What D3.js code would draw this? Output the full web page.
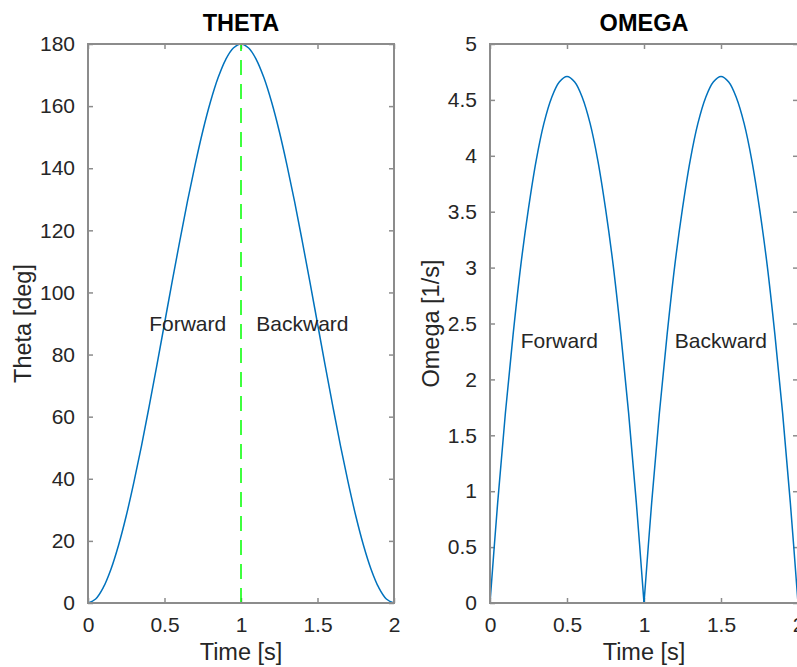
<!DOCTYPE html>
<html>
<head>
<meta charset="utf-8">
<script src="https://cdn.jsdelivr.net/npm/d3@7"></script>
<style>
  html, body { margin: 0; padding: 0; background: #fff; }
  svg { display: block; font-family: "Liberation Sans", Arial, Helvetica, sans-serif; }
</style>
</head>
<body>
<svg id="fig" width="797" height="667"></svg>
<script>
// Sample times (s), one motion cycle: forward 0..1 s, backward 1..2 s
const time = [0, 0.05, 0.1, 0.15, 0.2, 0.25, 0.3, 0.35, 0.4, 0.45, 0.5,
              0.55, 0.6, 0.65, 0.7, 0.75, 0.8, 0.85, 0.9, 0.95, 1.0,
              1.05, 1.1, 1.15, 1.2, 1.25, 1.3, 1.35, 1.4, 1.45, 1.5,
              1.55, 1.6, 1.65, 1.7, 1.75, 1.8, 1.85, 1.9, 1.95, 2.0];

// Joint angle (deg)
const theta = [0, 1.3, 5.0, 10.9, 18.7, 28.1, 38.9, 50.7, 63.4, 76.5, 90.0,
               103.5, 116.6, 129.3, 141.1, 151.9, 161.3, 169.1, 175.0, 178.7, 180.0,
               178.7, 175.0, 169.1, 161.3, 151.9, 141.1, 129.3, 116.6, 103.5, 90.0,
               76.5, 63.4, 50.7, 38.9, 28.1, 18.7, 10.9, 5.0, 1.3, 0];

// Angular speed magnitude (1/s)
const omega = [0, 0.90, 1.70, 2.40, 3.02, 3.53, 3.96, 4.29, 4.52, 4.66, 4.71,
               4.66, 4.52, 4.29, 3.96, 3.53, 3.02, 2.40, 1.70, 0.90, 0,
               0.90, 1.70, 2.40, 3.02, 3.53, 3.96, 4.29, 4.52, 4.66, 4.71,
               4.66, 4.52, 4.29, 3.96, 3.53, 3.02, 2.40, 1.70, 0.90, 0];

// Axis ticks
const timeTicks  = [0, 0.5, 1, 1.5, 2];
const thetaTicks = [0, 20, 40, 60, 80, 100, 120, 140, 160, 180];
const omegaTicks = [0, 0.5, 1, 1.5, 2, 2.5, 3, 3.5, 4, 4.5, 5];

// Phase annotations [x, y, text]
const thetaNotes = [[0.4, 90, "Forward"], [1.1, 90, "Backward"]];
const omegaNotes = [[0.2, 2.35, "Forward"], [1.2, 2.35, "Backward"]];

// Direction switch time
const switchTime = [1];

const svg = d3.select("#fig");
const TICK_FONT = 21, LABEL_FONT = 23.5, TITLE_FONT = 23.5;
const AXIS_COLOR = "#8c8c8c", TEXT_COLOR = "#262626";
const LINE_BLUE = "#0072BD";

function panel(opt) {
  const x = d3.scaleLinear().domain([0, 2]).range([opt.left, opt.right]);
  const y = d3.scaleLinear().domain(opt.yDomain).range([opt.bottom, opt.top]);
  const g = svg.append("g");
  const tl = 5;

  // clip to plot box
  const clipId = "clip-" + opt.name;
  svg.append("clipPath").attr("id", clipId).append("rect")
    .attr("x", opt.left).attr("y", opt.top - 2)
    .attr("width", opt.right - opt.left).attr("height", opt.bottom - opt.top + 4);

  // bottom axis with labels, ticks pointing inward
  const xb = g.append("g").attr("transform", `translate(0,${opt.bottom})`)
    .call(d3.axisBottom(x).tickValues(timeTicks).tickSizeInner(-tl).tickSizeOuter(0)
      .tickPadding(tl + 10).tickFormat(d3.format("")));
  const xt = g.append("g").attr("transform", `translate(0,${opt.top})`)
    .call(d3.axisTop(x).tickValues(timeTicks).tickSizeInner(-tl).tickSizeOuter(0).tickFormat(""));
  const yl = g.append("g").attr("transform", `translate(${opt.left},0)`)
    .call(d3.axisLeft(y).tickValues(opt.yTicks).tickSizeInner(-tl).tickSizeOuter(0)
      .tickPadding(tl + 8).tickFormat(d3.format("")));
  const yr = g.append("g").attr("transform", `translate(${opt.right},0)`)
    .call(d3.axisRight(y).tickValues(opt.yTicks).tickSizeInner(-tl).tickSizeOuter(0).tickFormat(""));

  [xb, xt, yl, yr].forEach(a => {
    a.select(".domain").remove();
    a.selectAll(".tick line").attr("stroke", AXIS_COLOR).attr("stroke-width", 1.5);
    a.selectAll(".tick text").attr("fill", TEXT_COLOR).attr("font-size", TICK_FONT)
      .attr("font-family", "Liberation Sans, Arial, sans-serif");
  });
  xb.selectAll(".tick text").attr("dy", null).attr("y", 29);

  // curve
  const line = d3.line().x((d, i) => x(time[i])).y(d => y(d)).curve(d3.curveCatmullRom.alpha(0.5));
  opt.segments.forEach(([a, b]) => {
    const idx = d3.range(a, b + 1);
    g.append("path")
      .attr("clip-path", `url(#${clipId})`)
      .attr("d", d3.line().x(i => x(time[i])).y(i => y(opt.values[i]))
        .curve(d3.curveCatmullRom.alpha(0.5))(idx))
      .attr("fill", "none").attr("stroke", LINE_BLUE).attr("stroke-width", 1.5);
  });

  if (opt.marker) {
    g.selectAll(".switch").data(switchTime).enter().append("line")
      .attr("x1", d => x(d)).attr("x2", d => x(d))
      .attr("y1", y(opt.yDomain[0])).attr("y2", y(opt.yDomain[1]))
      .attr("stroke", "#00ff00").attr("stroke-width", 1.5)
      .attr("stroke-dasharray", "15,9");
  }

  // box
  g.append("rect")
    .attr("x", opt.left).attr("y", opt.top)
    .attr("width", opt.right - opt.left).attr("height", opt.bottom - opt.top)
    .attr("fill", "none").attr("stroke", AXIS_COLOR).attr("stroke-width", 2);

  // annotations
  g.selectAll(".note").data(opt.notes).enter().append("text")
    .attr("x", d => x(d[0])).attr("y", d => y(d[1]))
    .attr("dy", "0.35em").attr("font-size", TICK_FONT).attr("fill", TEXT_COLOR)
    .text(d => d[2]);

  // title
  g.append("text").attr("x", (opt.left + opt.right) / 2).attr("y", 31)
    .attr("text-anchor", "middle").attr("font-weight", "bold")
    .attr("font-size", TITLE_FONT).attr("fill", "#000").text(opt.title);

  // x label
  g.append("text").attr("x", (opt.left + opt.right) / 2).attr("y", 660)
    .attr("text-anchor", "middle").attr("font-size", LABEL_FONT)
    .attr("fill", TEXT_COLOR).text("Time [s]");

  // y label
  const cy = (opt.top + opt.bottom) / 2;
  g.append("text").attr("transform", `translate(${opt.ylabelX},${cy}) rotate(-90)`)
    .attr("text-anchor", "middle").attr("font-size", LABEL_FONT)
    .attr("fill", TEXT_COLOR).text(opt.ylabel);
}

panel({
  name: "theta", title: "THETA", ylabel: "Theta [deg]",
  left: 88, right: 394, top: 44, bottom: 603, ylabelX: 31,
  yDomain: [0, 180], yTicks: thetaTicks, values: theta,
  segments: [[0, 40]], notes: thetaNotes, marker: true
});

panel({
  name: "omega", title: "OMEGA", ylabel: "Omega [1/s]",
  left: 490, right: 798, top: 44, bottom: 603, ylabelX: 439,
  yDomain: [0, 5], yTicks: omegaTicks, values: omega,
  segments: [[0, 20], [20, 40]], notes: omegaNotes, marker: false
});
</script>
</body>
</html>
